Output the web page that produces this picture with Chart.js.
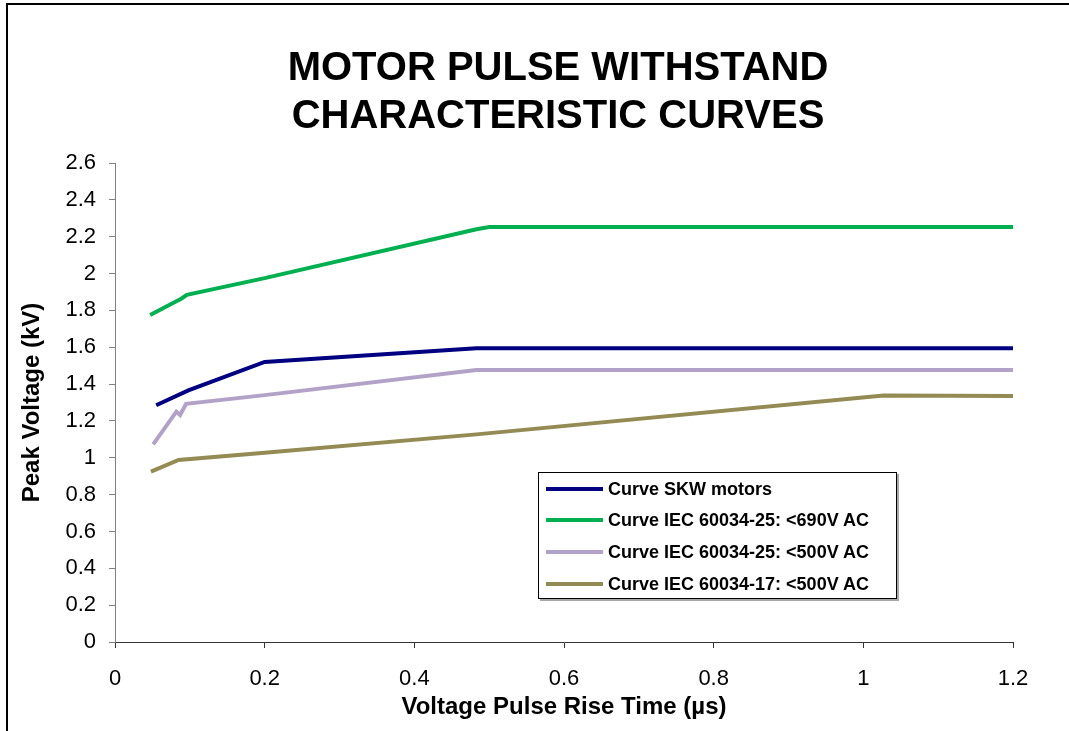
<!DOCTYPE html>
<html>
<head>
<meta charset="utf-8">
<script src="https://cdn.jsdelivr.net/npm/chart.js@4/dist/chart.umd.min.js"></script>
<style>
  html, body { margin: 0; padding: 0; background: #fff; overflow: hidden; }
  #wrap { position: relative; width: 1069px; height: 731px; overflow: hidden; font-family: "Liberation Sans", Arial, sans-serif; }
  #c { position: absolute; left: 0; top: 0; }
  #frame { position: absolute; left: 6px; top: 3px; width: 1200px; height: 900px; border: 2px solid #000; pointer-events: none; }
  #title { position: absolute; left: 0; top: 41.5px; width: 1116px; text-align: center; font-weight: bold; font-size: 40px; line-height: 48px; color: #000; }
  #legend { position: absolute; left: 538px; top: 472px; width: 357px; height: 125px; border: 1px solid #000; background: #fff; box-shadow: 2px 2px 0 #a8a8a8; }
  .item { position: absolute; left: 0; height: 24px; }
  .swatch { position: absolute; left: 7px; width: 57px; height: 4px; top: 10px; }
  .label { position: absolute; left: 69px; top: 0; white-space: nowrap; font-weight: bold; font-size: 18px; line-height: 24px; color: #000; }
</style>
</head>
<body>
<div id="wrap">
  <canvas id="c" width="1069" height="731"></canvas>
  <div id="frame"></div>
  <div id="title">MOTOR PULSE WITHSTAND<br>CHARACTERISTIC CURVES</div>
  <div id="legend"></div>
</div>
<script>
// ---- data ----
const seriesNames = [
  "Curve SKW motors",
  "Curve IEC 60034-25: <690V AC",
  "Curve IEC 60034-25: <500V AC",
  "Curve IEC 60034-17: <500V AC"
];
const seriesColors = ["#000080", "#00B050", "#B3A2C7", "#948A54"];

const skwX = [0.055, 0.098, 0.2, 0.483, 1.2];
const skwY = [1.285, 1.366, 1.52, 1.595, 1.595];

const iec690X = [0.047, 0.082, 0.088, 0.096, 0.2, 0.483, 0.5, 1.2];
const iec690Y = [1.775, 1.85, 1.862, 1.884, 1.975, 2.24, 2.252, 2.252];

const iec500X = [0.051, 0.082, 0.087, 0.095, 0.2, 0.483, 1.2];
const iec500Y = [1.073, 1.25, 1.232, 1.293, 1.34, 1.477, 1.477];

const iec17X = [0.048, 0.085, 0.2, 0.483, 1.027, 1.2];
const iec17Y = [0.925, 0.988, 1.027, 1.127, 1.338, 1.335];

const xTicks = [0, 0.2, 0.4, 0.6, 0.8, 1, 1.2];
const yTicks = [0, 0.2, 0.4, 0.6, 0.8, 1, 1.2, 1.4, 1.6, 1.8, 2, 2.2, 2.4, 2.6];

const xTitle = "Voltage Pulse Rise Time (µs)";
const yTitle = "Peak Voltage (kV)";

// ---- build ----
function pts(xs, ys) { return xs.map((x, i) => ({ x: x, y: ys[i] })); }
const allX = [skwX, iec690X, iec500X, iec17X];
const allY = [skwY, iec690Y, iec500Y, iec17Y];

const datasets = seriesNames.map((n, i) => ({
  label: n,
  data: pts(allX[i], allY[i]),
  borderColor: seriesColors[i],
  backgroundColor: seriesColors[i],
  borderWidth: 4,
  pointRadius: 0,
  tension: 0,
  fill: false,
  borderCapStyle: 'butt',
  borderJoinStyle: 'miter'
}));

const FONT = "'Liberation Sans', Arial, sans-serif";

new Chart(document.getElementById('c'), {
  type: 'line',
  data: { datasets: datasets },
  options: {
    responsive: false,
    animation: false,
    devicePixelRatio: 1,
    layout: { padding: { top: 163, right: 56, bottom: 0, left: 0 } },
    plugins: { legend: { display: false }, tooltip: { enabled: false }, title: { display: false } },
    scales: {
      x: {
        type: 'linear',
        min: 0, max: 1.2,
        afterFit: s => { s.height = 89; },
        afterBuildTicks: s => { s.ticks = xTicks.map(v => ({ value: v })); },
        ticks: {
          color: '#000', padding: 18,
          font: { family: FONT, size: 22 },
          callback: v => String(+v.toFixed(1))
        },
        grid: { display: true, drawOnChartArea: false, drawTicks: true, tickLength: 6, color: '#333', lineWidth: 1 },
        border: { display: true, color: '#333', width: 1 },
        title: { display: true, text: xTitle, color: '#000', padding: { top: 4, bottom: 9 }, font: { family: FONT, size: 24, weight: 'bold' } }
      },
      y: {
        type: 'linear',
        min: 0, max: 2.6,
        afterFit: s => { s.width = 115; },
        afterBuildTicks: s => { s.ticks = yTicks.map(v => ({ value: v })); },
        ticks: {
          color: '#000', padding: 13,
          font: { family: FONT, size: 22 },
          callback: v => String(+v.toFixed(1))
        },
        grid: { display: true, drawOnChartArea: false, drawTicks: true, tickLength: 6, color: '#808080', lineWidth: 1 },
        border: { display: true, color: '#808080', width: 1 },
        title: { display: true, text: yTitle, color: '#000', padding: { top: 18, bottom: 4 }, font: { family: FONT, size: 24, weight: 'bold' } }
      }
    }
  }
});

// ---- HTML legend from the same arrays ----
const lg = document.getElementById('legend');
seriesNames.forEach((n, i) => {
  const it = document.createElement('div');
  it.className = 'item';
  it.style.top = (3.5 + 31.9 * i) + 'px';
  const sw = document.createElement('div');
  sw.className = 'swatch';
  sw.style.background = seriesColors[i];
  const lb = document.createElement('div');
  lb.className = 'label';
  lb.textContent = n;
  it.appendChild(sw); it.appendChild(lb);
  lg.appendChild(it);
});
</script>
</body>
</html>
